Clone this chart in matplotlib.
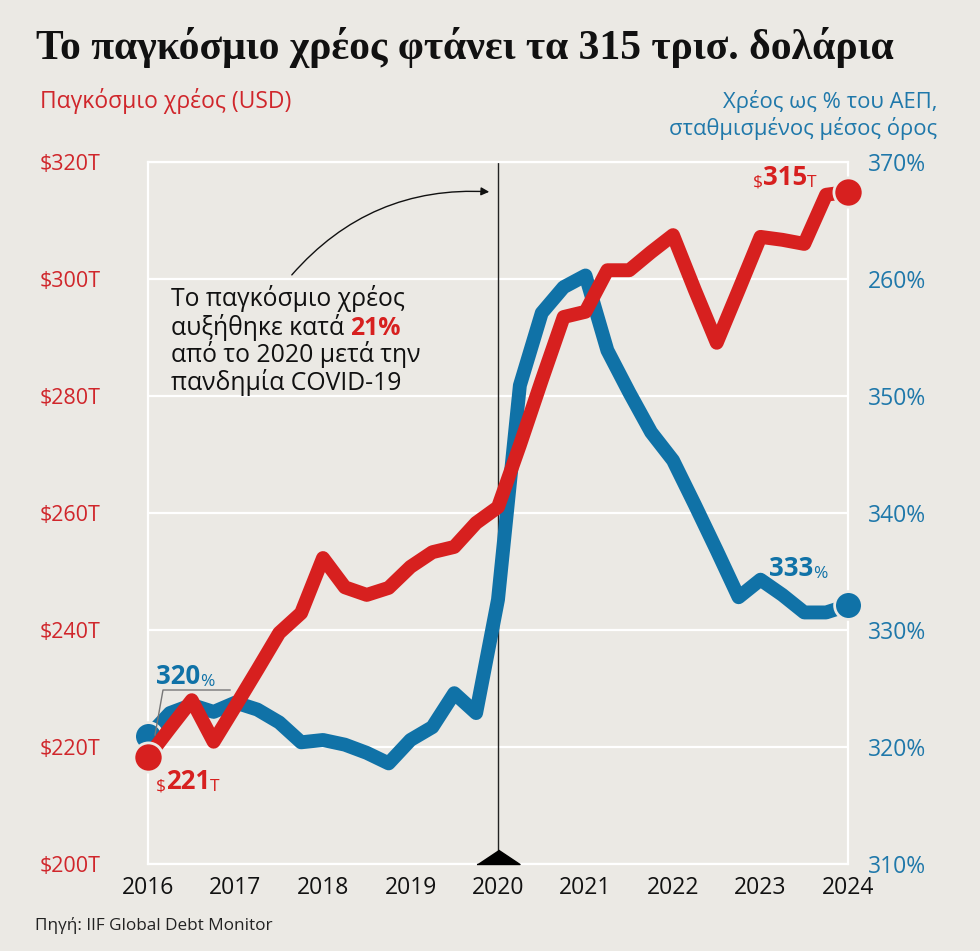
import numpy as np
import matplotlib; matplotlib.use("Agg")
import matplotlib.pyplot as plt
from matplotlib.lines import Line2D

# ---- data (quarterly 2016 Q1 .. 2024 Q1) ----
quarters = np.arange(33)
years = 2016 + quarters / 4.0
debt_usd = [218.3, 223.2, 228.0, 220.9, 227.0, 233.2, 239.5, 242.9, 252.3, 247.3,
            246.0, 247.2, 250.8, 253.3, 254.2, 258.3, 261.0, 271.6, 282.7, 293.5,
            294.4, 301.5, 301.5, 304.6, 307.5, 298.1, 289.1, 298.1, 307.2, 306.7,
            306.0, 314.4, 314.9]
debt_gdp = [320.9, 322.9, 323.6, 323.0, 323.8, 323.2, 322.1, 320.4, 320.6, 320.2,
            319.5, 318.6, 320.6, 321.7, 324.6, 322.9, 332.6, 350.9, 357.1, 359.3,
            360.3, 353.9, 350.3, 346.9, 344.5, 340.7, 336.8, 332.8, 334.3, 333.0,
            331.5, 331.5, 332.1]
left_ticks = [200, 220, 240, 260, 280, 300, 320]
left_labels = ["$200T", "$220T", "$240T", "$260T", "$280T", "$300T", "$320T"]
right_ticks = [310, 320, 330, 340, 350, 360, 370]
right_labels = ["310%", "320%", "330%", "340%", "350%", "260%", "370%"]
year_ticks = list(range(2016, 2025))

W, H = 980, 951
BG = "#EBE9E4"
RED = "#D7201F"
RED_T = "#D0262B"
BLUE = "#1072A7"
BLUE_T = "#1F78AA"
SANS = ["Open Sans", "DejaVu Sans"]

plt.rcParams["font.family"] = SANS

fig = plt.figure(figsize=(W / 100, H / 100), dpi=100, facecolor=BG)
P = lambda x, y: (x / W, 1 - y / H)   # pixel -> figure fraction

left, right, top, bottom = 148, 848, 162, 864
rect = [left / W, 1 - bottom / H, (right - left) / W, (bottom - top) / H]
ax = fig.add_axes(rect)
ax.set_facecolor(BG)
ax.set_xlim(2016, 2024)
ax.set_ylim(200, 320)
ax.set_yticks(left_ticks, left_labels)
ax.set_xticks(year_ticks, [str(y) for y in year_ticks])
ax.tick_params(axis="y", length=0, pad=34, labelsize=15.5, labelcolor=RED_T)
ax.tick_params(axis="x", length=0, pad=9, labelsize=16.5, labelcolor="#111")
ax.grid(axis="y", color="white", lw=1.6)
ax.set_axisbelow(True)
for s in ax.spines.values():
    s.set_color("white"); s.set_linewidth(1.6)

# 2020 marker line + triangle
ax.axvline(2020, color="#222", lw=1.0, zorder=1)
ax.plot([2020], [200], marker=[(-1.5, 0), (1.5, 0), (0, 1)], ms=31, color="black",
        clip_on=False, zorder=3)

ax2 = ax.twinx()
ax2.set_ylim(310, 370)
ax2.set_yticks(right_ticks, right_labels)
ax2.tick_params(axis="y", length=0, pad=14, labelsize=16.5, labelcolor=BLUE_T)
for s in ax2.spines.values():
    s.set_visible(False)
ax2.plot(years, debt_gdp, color=BLUE, lw=10, solid_joinstyle="round",
         solid_capstyle="round", clip_on=False)
ax2.plot([years[0], years[-1]], [debt_gdp[0], debt_gdp[-1]], "o", ms=20, color=BLUE,
         mec=BG, mew=2, clip_on=False)

ax3 = ax.twinx()
ax3.set_ylim(200, 320)
ax3.axis("off")
ax3.plot(years, debt_usd, color=RED, lw=10, solid_joinstyle="round",
         solid_capstyle="round", clip_on=False)
ax3.plot([years[0], years[-1]], [debt_usd[0], debt_usd[-1]], "o", ms=21, color=RED,
         mec=BG, mew=2, clip_on=False)


def rich(axis, xy, offset, parts):
    """Chain text pieces with different styles left to right."""
    s, kw = parts[0]
    prev = axis.annotate(s, xy=xy, xycoords="data", xytext=offset,
                         textcoords="offset pixels", ha="left", va="bottom",
                         annotation_clip=False, **kw)
    for s, kw in parts[1:]:
        prev = axis.annotate(s, xy=(1, 0), xycoords=prev, xytext=(0, 0),
                             textcoords="offset points", ha="left", va="bottom", **kw)
    return prev


small_r = dict(color=RED, fontsize=12.5)
bold_r = dict(color=RED, fontsize=18.5, fontweight="bold")
small_b = dict(color=BLUE, fontsize=12.5)
bold_b = dict(color=BLUE, fontsize=18.5, fontweight="bold")

rich(ax3, (years[-1], debt_usd[-1]), (-95, 1), [("$", small_r), ("315", bold_r), ("T", small_r)])
rich(ax3, (years[0], debt_usd[0]), (8, -38), [("$", small_r), ("221", bold_r), ("T", small_r)])
rich(ax2, (years[-1], debt_gdp[-1]), (-79, 23), [("333", bold_b), ("%", small_b)])
rich(ax2, (years[0], debt_gdp[0]), (8, 46), [("320", bold_b), ("%", small_b)])
fig.add_artist(Line2D([P(155, 735)[0], P(163, 690)[0], P(230, 690)[0]],
                      [P(155, 735)[1], P(163, 690)[1], P(230, 690)[1]],
                      color="#777", lw=1.0))

# annotation
ann_lines = [(299, "Το παγκόσμιο χρέος"), (327, "αυξήθηκε κατά "),
             (355, "από το 2020 μετά την"), (383, "πανδημία COVID-19")]
for y, s in ann_lines:
    t = fig.text(*P(171, y), s, fontsize=17.8, color="#111", va="center", ha="left")
    if s.startswith("αυξήθηκε"):
        ax.annotate("21%", xy=(1, 0), xycoords=t, xytext=(0, 0),
                    textcoords="offset points", va="bottom", ha="left",
                    fontsize=17.8, fontweight="bold", color=RED)
ax.annotate("", xy=P(492, 192), xycoords="figure fraction", xytext=P(290, 277),
            textcoords="figure fraction",
            arrowprops=dict(arrowstyle="-|>", color="#111", lw=1.0,
                            connectionstyle="arc3,rad=-0.25", mutation_scale=12))

# titles
fig.text(*P(36, 47), "Το παγκόσμιο χρέος φτάνει τα 315 τρισ. δολάρια",
         family=["Liberation Serif", "DejaVu Serif"], fontweight="bold", fontsize=30,
         color="#111", va="center", ha="left")
fig.text(*P(40, 101), "Παγκόσμιο χρέος (USD)", fontsize=16.5, color=RED_T,
         va="center", ha="left")
fig.text(*P(937, 115), "Χρέος ως % του ΑΕΠ,\nσταθμισμένος μέσος όρος", fontsize=15.8,
         color=BLUE_T, va="center", ha="right", multialignment="right", linespacing=1.2)
fig.text(*P(35, 926), "Πηγή: IIF Global Debt Monitor", fontsize=12.3, color="#222",
         va="center", ha="left")

fig.savefig("out.png", dpi=100, facecolor=BG)
